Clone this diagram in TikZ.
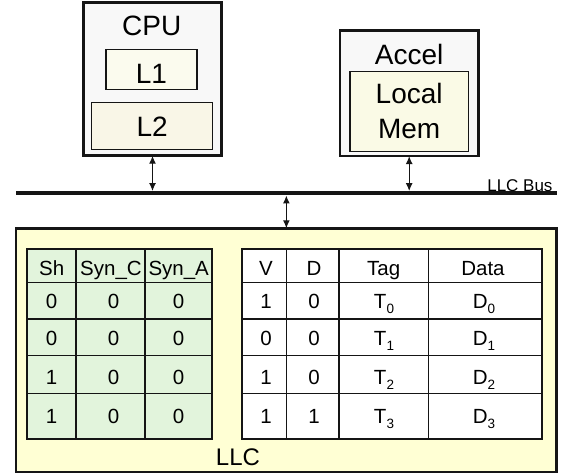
\documentclass[tikz,border=0pt]{standalone}
\usepackage{fontspec}
\setmainfont{Liberation Sans}
\usetikzlibrary{arrows.meta}
\definecolor{edge}{HTML}{151515}
\definecolor{boxgray}{HTML}{F8F8F8}
\definecolor{cacheone}{HTML}{FBFBEE}
\definecolor{cachetwo}{HTML}{F9F6E7}
\definecolor{memfill}{HTML}{FAFAE6}
\definecolor{llcfill}{HTML}{FFFFD4}
\definecolor{synfill}{HTML}{E2F4DC}
\newcommand{\subidx}[1]{\raisebox{-5pt}{\fontsize{13.5}{13.5}\selectfont #1}}
\begin{document}
\begin{tikzpicture}[x=1pt,y=-1pt,
  unit/.style={rectangle, draw=edge, line width=2.5pt, inner sep=0pt, outer sep=0pt},
  inner/.style={rectangle, draw=edge, line width=1.5pt, inner sep=0pt, outer sep=0pt},
  big/.style={inner sep=0pt, font=\fontsize{28}{28}\selectfont, text height=20pt, text depth=0pt},
  cell/.style={inner sep=0pt, font=\fontsize{20.5}{20.5}\selectfont, text height=14.7pt, text depth=0pt},
  link/.style={draw=edge, line width=1.3pt, {Latex[length=8pt,width=7pt]}-{Latex[length=8pt,width=7pt]}},
  grid/.style={draw=edge, line width=1.3pt},
  frame/.style={draw=edge, line width=2pt}
]
\useasboundingbox (0,0) rectangle (566,476);

% CPU with its private caches
\node[unit, fill=boxgray, minimum width=138.4pt, minimum height=153pt] (cpu) at (152.5,79.2) {};
\node[big] (cputxt) at (151.7,25.8) {CPU};
\node[inner, fill=cacheone, minimum width=90.7pt, minimum height=40pt] (l1) at (151.4,69.3) {};
\node[big] (l1txt) at (151.4,73.3) {L1};
\node[inner, fill=cachetwo, minimum width=121pt, minimum height=46.6pt] (l2) at (152.2,126) {};
\node[big] (l2txt) at (152.2,126.5) {L2};

% Accelerator with local memory
\node[unit, fill=boxgray, minimum width=138.3pt, minimum height=125.3pt] (accel) at (409.2,93.4) {};
\node[big] (acceltxt) at (409.2,55) {Accel};
\node[inner, fill=memfill, minimum width=118.3pt, minimum height=80pt] (mem) at (409.2,111.7) {};
\node[inner sep=0pt, align=center, font=\fontsize{28}{35.7}\selectfont] (memtxt) at (409.2,110.9) {Local\\Mem};

% Shared bus
\node[rectangle, fill=edge, inner sep=0pt, minimum width=541pt, minimum height=4pt] (bus) at (286.5,193.3) {};
\node[inner sep=0pt, font=\fontsize{17}{17}\selectfont, text height=12.2pt, text depth=0pt] (bustxt) at (519.9,185) {LLC Bus};

% Last-level cache
\node[unit, fill=llcfill, minimum width=540.7pt, minimum height=243.7pt] (llc) at (286.35,350.15) {};
\node[inner sep=0pt, font=\fontsize{24}{24}\selectfont, text height=17.2pt, text depth=0pt] (llctxt) at (238,457) {LLC};

% Bus connections
\draw[link] (cpu.south) -- (cpu.south |- bus.north);
\draw[link] (accel.south) -- (accel.south |- bus.north);
\draw[link] (bus.south -| llc.north) -- (llc.north);

% Sharing / synonym bits table
\fill[synfill] (27.3,249) rectangle (212.3,439.3);
\foreach \y in {282.7,319,355.5,393.3} \draw[grid] (27.3,\y) -- (212.3,\y);
\foreach \x in {76,145} \draw[grid] (\x,249) -- (\x,439.3);
\draw[frame] (27.3,249) rectangle (212.3,439.3);

\node[cell] (sh-h) at (51.7,268) {Sh};
\node[cell] (sc-h) at (111,268) {Syn\_C};
\node[cell] (sa-h) at (178.7,268) {Syn\_A};
\foreach \y/\sh [count=\r] in {301/0,338/0,377/1,416/1} {
  \node[cell] (sh-\r) at (51.7,\y) {\sh};
  \node[cell] (sc-\r) at (113.5,\y) {0};
  \node[cell] (sa-\r) at (178.7,\y) {0};
}

% Tag / data array
\fill[white] (241.7,249) rectangle (541.7,439.3);
\foreach \y in {282.7,319,355.5,393.3} \draw[grid] (241.7,\y) -- (541.7,\y);
\foreach \x in {286.7,339,428.3} \draw[grid] (\x,249) -- (\x,439.3);
\draw[frame] (241.7,249) rectangle (541.7,439.3);

\node[cell] (v-h) at (266,268) {V};
\node[cell] (d-h) at (314,268) {D};
\node[cell] (t-h) at (383.7,268) {Tag};
\node[cell] (x-h) at (483,268) {Data};
\foreach \y/\v/\d [count=\r from 0] in {301/1/0,338/0/0,377/1/0,416/1/1} {
  \node[cell] (v-\r) at (266,\y) {\v};
  \node[cell] (d-\r) at (314,\y) {\d};
  \node[cell] (t-\r) at (384,\y) {T\subidx{\r}};
  \node[cell] (x-\r) at (484,\y) {D\subidx{\r}};
}
\end{tikzpicture}
\end{document}
